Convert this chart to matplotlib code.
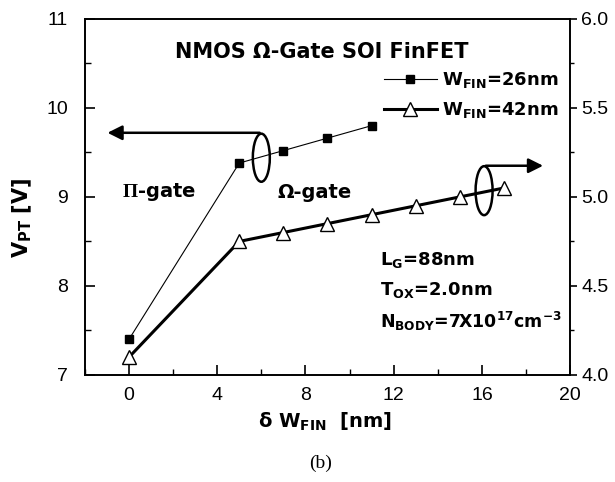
import matplotlib
matplotlib.use("Agg")
import matplotlib.pyplot as plt
from matplotlib.patches import Ellipse

plt.rcParams['font.family'] = ['Liberation Sans', 'DejaVu Sans']
plt.rcParams['mathtext.fontset'] = 'custom'
plt.rcParams['mathtext.rm'] = 'DejaVu Sans'
plt.rcParams['mathtext.bf'] = 'DejaVu Sans:bold'
plt.rcParams['mathtext.it'] = 'DejaVu Sans:italic'
plt.rcParams['mathtext.sf'] = 'Liberation Serif:bold'

BOLD = 'DejaVu Sans'

# data
x26 = [0, 5, 7, 9, 11]
v26 = [7.4, 9.38, 9.52, 9.66, 9.80]          # left axis, V_PT [V]
x42 = [0, 5, 7, 9, 11, 13, 15, 17]
v42 = [4.10, 4.75, 4.80, 4.85, 4.90, 4.95, 5.00, 5.05]  # right axis
xticks = [0, 4, 8, 12, 16, 20]
lyticks = [7, 8, 9, 10, 11]
ryticks = [4.0, 4.5, 5.0, 5.5, 6.0]

fig = plt.figure(figsize=(6.15, 4.82), dpi=100)
ax = fig.add_axes([0.138, 0.222, 0.789, 0.739])
ax2 = ax.twinx()

l1, = ax.plot(x26, v26, '-', color='black', lw=0.8, marker='s', ms=5.5,
              mfc='black', mec='black', label='W$_{\\mathbf{FIN}}$=26nm')
l2, = ax2.plot(x42, v42, '-', color='black', lw=2.2, marker='^', ms=10.5,
               mfc='white', mec='black', mew=1.0, label='W$_{\\mathbf{FIN}}$=42nm')

ax.set_xlim(-2, 20)
ax.set_ylim(7, 11)
ax2.set_ylim(4.0, 6.0)
ax.set_xticks(xticks)
ax.set_xticks(range(-2, 21, 2), minor=True)
ax.set_yticks(lyticks)
ax.set_yticks([7.5, 8.5, 9.5, 10.5], minor=True)
ax2.set_yticks(ryticks)
ax2.set_yticks([4.25, 4.75, 5.25, 5.75], minor=True)
ax2.set_yticklabels(['4.0', '4.5', '5.0', '5.5', '6.0'])

ax.tick_params(axis='both', which='major', direction='in', length=7, width=1.2, labelsize=14)
ax.tick_params(axis='y', which='major', pad=12)
ax.tick_params(axis='x', which='major', pad=9)
ax.tick_params(axis='both', which='minor', direction='in', length=4, width=1.0)
ax.tick_params(top=False, right=False, which='both')
ax2.tick_params(axis='y', which='major', direction='out', length=5, width=1.2, labelsize=14, pad=3)
ax2.tick_params(axis='y', which='minor', direction='out', length=3, width=1.0)
for a in (ax, ax2):
    for s in a.spines.values():
        s.set_linewidth(1.2)

ax.set_ylabel('V$_{\\mathbf{PT}}$ [V]', fontsize=15, fontweight='bold', family=BOLD)
ax.yaxis.set_label_coords(-0.105, 0.44)
ax.set_xlabel('\u03b4 W$_{\\mathbf{FIN}}$  [nm]', fontsize=14, fontweight='bold', family=BOLD)
ax.xaxis.set_label_coords(0.495, -0.1)

ax.text(8.75, 10.63, 'NMOS \u03a9-Gate SOI FinFET', fontsize=15, fontweight='bold',
        family=BOLD, ha='center', va='center')
ax.text(-0.32, 9.05, '$\\mathsf{\\Pi}$-gate', fontsize=14, fontweight='bold', family=BOLD,
        ha='left', va='center')
ax.text(6.75, 9.05, '\u03a9-gate', fontsize=14, fontweight='bold', family=BOLD,
        ha='left', va='center')

ax.text(11.38, 8.29, 'L$_{\\mathbf{G}}$=88nm', fontsize=13, fontweight='bold', family=BOLD,
        ha='left', va='center')
ax.text(11.38, 7.95, 'T$_{\\mathbf{OX}}$=2.0nm', fontsize=13, fontweight='bold', family=BOLD,
        ha='left', va='center')
ax.text(11.38, 7.60, 'N$_{\\mathbf{BODY}}$=7X10$^{\\mathbf{17}}$cm$^{\\mathbf{-3}}$', fontsize=12.5,
        fontweight='bold', family=BOLD, ha='left', va='center')

# ellipses and arrows
ax.add_patch(Ellipse((6.0, 9.44), 0.77, 0.54, fill=False, lw=1.8, ec='black', zorder=5))
ax.annotate('', xy=(-1.1, 9.72), xytext=(6.05, 9.72),
            arrowprops=dict(arrowstyle='-|>', color='black', lw=1.8, mutation_scale=22))
ax.add_patch(Ellipse((16.1, 9.07), 0.77, 0.55, fill=False, lw=1.8, ec='black', zorder=5))
ax.annotate('', xy=(18.9, 9.35), xytext=(16.05, 9.35),
            arrowprops=dict(arrowstyle='-|>', color='black', lw=1.8, mutation_scale=22))

leg = ax2.legend(handles=[l1, l2], loc='upper right', bbox_to_anchor=(0.935, 0.888),
                 bbox_transform=fig.transFigure, frameon=False,
                 handlelength=2.9, handletextpad=0.3, labelspacing=0.55,
                 prop={'weight': 'bold', 'size': 13, 'family': BOLD})

fig.text(0.522, 0.038, '(b)', fontsize=14, family='Liberation Serif', ha='center', va='center')

fig.savefig('out.png', dpi=100)
